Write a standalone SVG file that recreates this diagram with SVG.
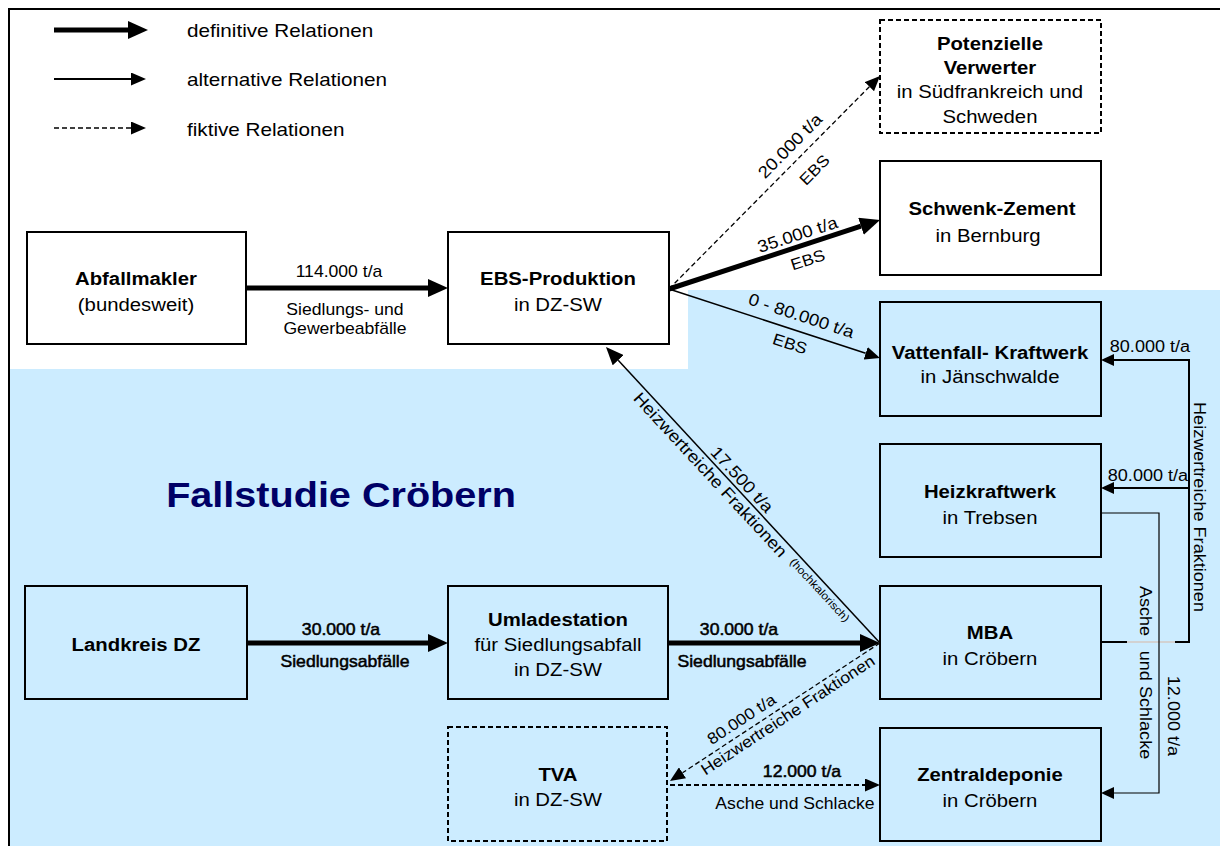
<svg xmlns="http://www.w3.org/2000/svg" width="1220" height="846" viewBox="0 0 1220 846">
  <style>
    text { font-family: "Liberation Sans", Arial, Helvetica, sans-serif; fill: #000; }
    .bx { fill: none; stroke: #000; stroke-width: 2; }
    .dbx { fill: none; stroke: #000; stroke-width: 2; stroke-dasharray: 5 3; }
    .nt { font-size: 18px; text-anchor: middle; transform-box: fill-box; transform-origin: 50% 50%; transform: scaleX(1.13); }
    .b { font-weight: bold; }
    .lb { font-size: 16px; text-anchor: middle; transform-box: fill-box; transform-origin: 50% 50%; transform: scaleX(1.1); }
    .lb17 { font-size: 17px; }
    .sm { font-size: 11px; }
    .hv { stroke: #000; stroke-width: 0.5; }
    .lg { font-size: 18px; transform-box: fill-box; transform-origin: 0 50%; transform: scaleX(1.15); }
    .vt { font-size: 16px; text-anchor: middle; transform-box: fill-box; transform-origin: 50% 50%; transform: scaleX(1.13); }
    .title { font-size: 36px; font-weight: bold; fill: #000066; text-anchor: middle; transform-box: fill-box; transform-origin: 50% 50%; transform: scaleX(1.1); }
    .thick { stroke: #000; stroke-width: 5; fill: none; }
    .thin { stroke: #000; stroke-width: 1.5; fill: none; }
    .side { stroke: #000; stroke-width: 2; fill: none; }
    .hair { stroke: #000; stroke-width: 1.2; fill: none; }
    .dash { stroke: #000; stroke-width: 1.3; fill: none; stroke-dasharray: 5 3; }
    .dash2 { stroke: #000; stroke-width: 2; fill: none; stroke-dasharray: 5 3; }
    .head { fill: #000; stroke: none; }
  </style>
  <defs>
    <marker id="hT" markerUnits="userSpaceOnUse" markerWidth="20" markerHeight="18" refX="0" refY="9" orient="auto">
      <path class="head" d="M0,0 L20,9 L0,18 Z"/>
    </marker>
    <marker id="hN" markerUnits="userSpaceOnUse" markerWidth="15" markerHeight="13" refX="0" refY="6.5" orient="auto">
      <path class="head" d="M0,0 L15,6.5 L0,13 Z"/>
    </marker>
    <marker id="hM" markerUnits="userSpaceOnUse" markerWidth="18" markerHeight="15" refX="0" refY="7.5" orient="auto">
      <path class="head" d="M0,0 L18,7.5 L0,15 Z"/>
    </marker>
    <marker id="hS" markerUnits="userSpaceOnUse" markerWidth="13" markerHeight="12" refX="0" refY="6" orient="auto">
      <path class="head" d="M0,0 L13,6 L0,12 Z"/>
    </marker>
  </defs>

  <!-- background, case-study area and frame -->
  <rect x="0" y="0" width="1220" height="846" fill="#fff"/>
  <polygon points="10,369 688,369 688,290 1220,290 1220,846 10,846" fill="#ccecff"/>
  <path d="M9,846 V9 H1220" fill="none" stroke="#000" stroke-width="2"/>

  <!-- legend -->
  <g id="legend">
    <line class="thick" x1="54" y1="30" x2="128" y2="30" marker-end="url(#hT)"/>
    <line class="side" x1="54" y1="79" x2="131" y2="79" marker-end="url(#hN)"/>
    <line class="dash" x1="54" y1="128" x2="131" y2="128" marker-end="url(#hN)"/>
    <text class="lg" x="187" y="37">definitive Relationen</text>
    <text class="lg" x="187" y="86">alternative Relationen</text>
    <text class="lg" x="187" y="136">fiktive Relationen</text>
  </g>

  <text class="title" x="341" y="507">Fallstudie Cröbern</text>

  <!-- connectors -->
  <g id="connectors">
    <!-- definitive relations -->
    <line class="thick" x1="247" y1="288" x2="428" y2="288" marker-end="url(#hT)"/>
    <line class="thick" x1="247" y1="643" x2="428" y2="643" marker-end="url(#hT)"/>
    <line class="thick" x1="668" y1="643" x2="860" y2="643" marker-end="url(#hT)"/>
    <line class="thick" x1="669" y1="289" x2="861" y2="226.2" marker-end="url(#hT)"/>
    <!-- alternative relations -->
    <line class="thin" x1="669" y1="289" x2="865.7" y2="353.3" marker-end="url(#hN)"/>
    <line class="thin" x1="880" y1="643" x2="618.2" y2="360.2" marker-end="url(#hM)"/>
    <polyline class="side" points="1101,642 1189,642 1189,360 1114,360" marker-end="url(#hS)"/>
    <line class="side" x1="1189" y1="488" x2="1114" y2="488" marker-end="url(#hS)"/>
    <line x1="1127" y1="642" x2="1175" y2="642" stroke="#d2d2d2" stroke-width="2"/>
    <polyline class="hair" points="1101,513 1159,513 1159,793 1114,793" marker-end="url(#hS)"/>
    <!-- fictitious relations -->
    <line class="dash" x1="669" y1="289" x2="869.4" y2="86.7" marker-end="url(#hN)"/>
    <line class="dash" x1="880" y1="643" x2="682.5" y2="772.8" marker-end="url(#hN)"/>
    <line class="dash2" x1="670" y1="785" x2="865" y2="785" marker-end="url(#hN)"/>

    <!-- connector labels -->
    <text class="lb" x="339" y="277">114.000 t/a</text>
    <text class="lb" x="345" y="315">Siedlungs- und</text>
    <text class="lb" x="345" y="334">Gewerbeabfälle</text>

    <text class="lb hv" x="341" y="635">30.000 t/a</text>
    <text class="lb hv" x="345" y="667">Siedlungsabfälle</text>
    <text class="lb hv" x="739" y="635">30.000 t/a</text>
    <text class="lb hv" x="742" y="667">Siedlungsabfälle</text>

    <text class="lb hv" x="802" y="777">12.000 t/a</text>
    <text class="lb" x="795" y="809">Asche und Schlacke</text>

    <g transform="translate(774.5,182.5) rotate(-45.3)">
      <text class="lb lb17" x="37" y="-9">20.000 t/a</text>
      <text class="lb" x="37" y="25">EBS</text>
    </g>
    <g transform="translate(774.5,254.5) rotate(-18.1)">
      <text class="lb lb17" x="28" y="-6">35.000 t/a</text>
      <text class="lb" x="30" y="21">EBS</text>
    </g>
    <g transform="translate(774.5,323.5) rotate(18.1)">
      <text class="lb lb17" x="23" y="-10">0 - 80.000 t/a</text>
      <text class="lb" x="21" y="20">EBS</text>
    </g>
    <g transform="translate(743,495) rotate(47.2)">
      <text class="lb lb17" x="-12" y="-4">17.500 t/a</text>
      <text class="lb lb17" x="-37" y="16">Heizwertreiche Fraktionen</text>
      <text class="lb sm" x="122" y="12">(hochkalorisch)</text>
    </g>
    <g transform="translate(775,712) rotate(-33.3)">
      <text class="lb" x="-32" y="-7">80.000 t/a</text>
      <text class="lb" x="9" y="15">Heizwertreiche Fraktionen</text>
    </g>

    <text class="vt" x="1150" y="352">80.000 t/a</text>
    <text class="vt" x="1148" y="481">80.000 t/a</text>
    <g transform="translate(1194,507) rotate(90)">
      <text class="vt">Heizwertreiche Fraktionen</text>
    </g>
    <g transform="translate(1140,0) rotate(90)">
      <text class="vt" x="611" y="0">Asche</text>
      <text class="vt" x="705" y="0">und Schlacke</text>
    </g>
    <g transform="translate(1168,716) rotate(90)">
      <text class="vt">12.000 t/a</text>
    </g>
  </g>

  <!-- nodes -->
  <g id="abfallmakler">
    <rect class="bx" x="27" y="232" width="219" height="112"/>
    <text class="nt b" x="136" y="285">Abfallmakler</text>
    <text class="nt" x="136" y="311">(bundesweit)</text>
  </g>
  <g id="ebs-produktion">
    <rect class="bx" x="448" y="232" width="221" height="112"/>
    <text class="nt b" x="558" y="285">EBS-Produktion</text>
    <text class="nt" x="558" y="311">in DZ-SW</text>
  </g>
  <g id="potenzielle-verwerter">
    <rect class="dbx" x="880" y="20" width="221" height="113"/>
    <text class="nt b" x="990" y="50">Potenzielle</text>
    <text class="nt b" x="990" y="74">Verwerter</text>
    <text class="nt" x="990" y="98">in Südfrankreich und</text>
    <text class="nt" x="990" y="123">Schweden</text>
  </g>
  <g id="schwenk-zement">
    <rect class="bx" x="880" y="161" width="221" height="114"/>
    <text class="nt b" x="992" y="215">Schwenk-Zement</text>
    <text class="nt" x="988" y="242">in Bernburg</text>
  </g>
  <g id="vattenfall">
    <rect class="bx" x="880" y="302" width="221" height="114"/>
    <text class="nt b" x="990" y="359">Vattenfall- Kraftwerk</text>
    <text class="nt" x="990" y="383">in Jänschwalde</text>
  </g>
  <g id="heizkraftwerk">
    <rect class="bx" x="880" y="444" width="221" height="113"/>
    <text class="nt b" x="990" y="498">Heizkraftwerk</text>
    <text class="nt" x="990" y="524">in Trebsen</text>
  </g>
  <g id="mba">
    <rect class="bx" x="880" y="586" width="221" height="113"/>
    <text class="nt b" x="990" y="639">MBA</text>
    <text class="nt" x="990" y="665">in Cröbern</text>
  </g>
  <g id="zentraldeponie">
    <rect class="bx" x="880" y="728" width="221" height="113"/>
    <text class="nt b" x="990" y="781">Zentraldeponie</text>
    <text class="nt" x="990" y="807">in Cröbern</text>
  </g>
  <g id="landkreis-dz">
    <rect class="bx" x="25" y="586" width="222" height="113"/>
    <text class="nt b" x="136" y="651">Landkreis DZ</text>
  </g>
  <g id="umladestation">
    <rect class="bx" x="448" y="586" width="220" height="113"/>
    <text class="nt b" x="558" y="626">Umladestation</text>
    <text class="nt" x="558" y="651">für Siedlungsabfall</text>
    <text class="nt" x="558" y="676">in DZ-SW</text>
  </g>
  <g id="tva">
    <rect class="dbx" x="448" y="727" width="219" height="114"/>
    <text class="nt b" x="558" y="781">TVA</text>
    <text class="nt" x="558" y="806">in DZ-SW</text>
  </g>
</svg>
